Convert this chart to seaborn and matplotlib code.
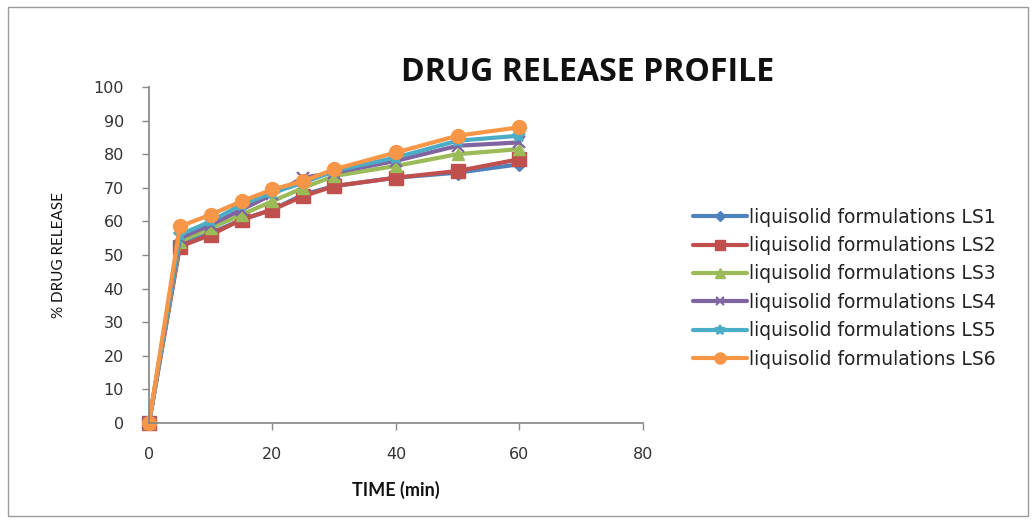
import matplotlib
matplotlib.use("Agg")
import matplotlib.pyplot as plt
from matplotlib.patches import Rectangle
import seaborn as sns
import pandas as pd

time_min = [0, 5, 10, 15, 20, 25, 30, 40, 50, 60]
series_names = ["liquisolid formulations LS1", "liquisolid formulations LS2",
                "liquisolid formulations LS3", "liquisolid formulations LS4",
                "liquisolid formulations LS5", "liquisolid formulations LS6"]
ls1 = [0, 53, 56.5, 60.5, 63.5, 68, 70.5, 73, 74.5, 77]
ls2 = [0, 52.5, 56, 60.5, 63.5, 67.5, 70.5, 73, 75, 78.5]
ls3 = [0, 54, 58, 62, 66, 70, 73.5, 76.5, 80, 81.5]
ls4 = [0, 55, 59, 63.5, 68, 73, 74.5, 78, 82.5, 83.5]
ls5 = [0, 56, 60, 65, 68.5, 71.5, 75, 79, 84, 85.5]
ls6 = [0, 58.5, 62, 66, 69.5, 72, 75.5, 80.5, 85.5, 88]
x_ticks = [0, 20, 40, 60, 80]
y_ticks = [0, 10, 20, 30, 40, 50, 60, 70, 80, 90, 100]

values = [ls1, ls2, ls3, ls4, ls5, ls6]
rows = []
for name, vals in zip(series_names, values):
    for t, v in zip(time_min, vals):
        rows.append({"time": t, "release": v, "series": name})
df = pd.DataFrame(rows)

colors = ["#4F81BD", "#C0504D", "#9BBB59", "#8064A2", "#4BACC6", "#F79646"]
markers = ["D", "s", "^", "x", "*", "o"]
msizes = [7, 9.5, 9, 8, 9.5, 10]

sns.set_theme(style="white")
plt.rcParams["font.family"] = "DejaVu Sans"

fig = plt.figure(figsize=(10.36, 5.22), dpi=100)
fig.add_artist(Rectangle((0.008, 0.012), 0.984, 0.975, transform=fig.transFigure,
                         fill=False, edgecolor="#9a9a9a", linewidth=1.0))
ax = fig.add_axes([0.1438, 0.1897, 0.4768, 0.6437])

for name, c, m, ms in zip(series_names, colors, markers, msizes):
    sub = df[df["series"] == name]
    sns.lineplot(data=sub, x="time", y="release", ax=ax, color=c, marker=m,
                 markersize=ms, markeredgecolor=c,
                 markeredgewidth=1.6 if m in ("x", "*") else 1,
                 linewidth=3.0, label=name, clip_on=False, estimator=None, sort=False)

ax.set_xlim(0, 80)
ax.set_ylim(0, 100)
ax.set_xticks(x_ticks)
ax.set_yticks(y_ticks)
ax.tick_params(axis="both", labelsize=11.5, length=5, width=1, color="#888888",
               direction="out", left=True, bottom=True)
ax.tick_params(axis="x", pad=12)
ax.tick_params(axis="y", pad=13)
for lbl in ax.get_xticklabels() + ax.get_yticklabels():
    lbl.set_color("#333333")
    lbl.set_family("DejaVu Sans")
sns.despine(ax=ax)
ax.spines["left"].set_color("#888888")
ax.spines["bottom"].set_color("#888888")

ax.set_xlabel("TIME (min)", fontsize=13, fontweight="bold", family=["Lato", "DejaVu Sans"],
              labelpad=14, color="#111111")
ax.set_ylabel("% DRUG RELEASE", fontsize=11, family=["Lato", "DejaVu Sans"],
              labelpad=20, color="#111111")

fig.text(0.5676, 0.862, "DRUG RELEASE PROFILE", fontsize=23, fontweight="bold",
         family=["Open Sans", "DejaVu Sans"], ha="center", va="center", color="#111111")

leg = ax.legend(loc="center left", bbox_to_anchor=(0.669, 0.448), bbox_transform=fig.transFigure,
                frameon=False, prop={"family": "DejaVu Sans", "size": 13.5},
                handlelength=2.9, labelspacing=0.5, markerscale=0.8,
                handletextpad=0.1, borderaxespad=0, borderpad=0)
for t in leg.get_texts():
    t.set_color("#222222")

fig.savefig("out.png", dpi=100)
